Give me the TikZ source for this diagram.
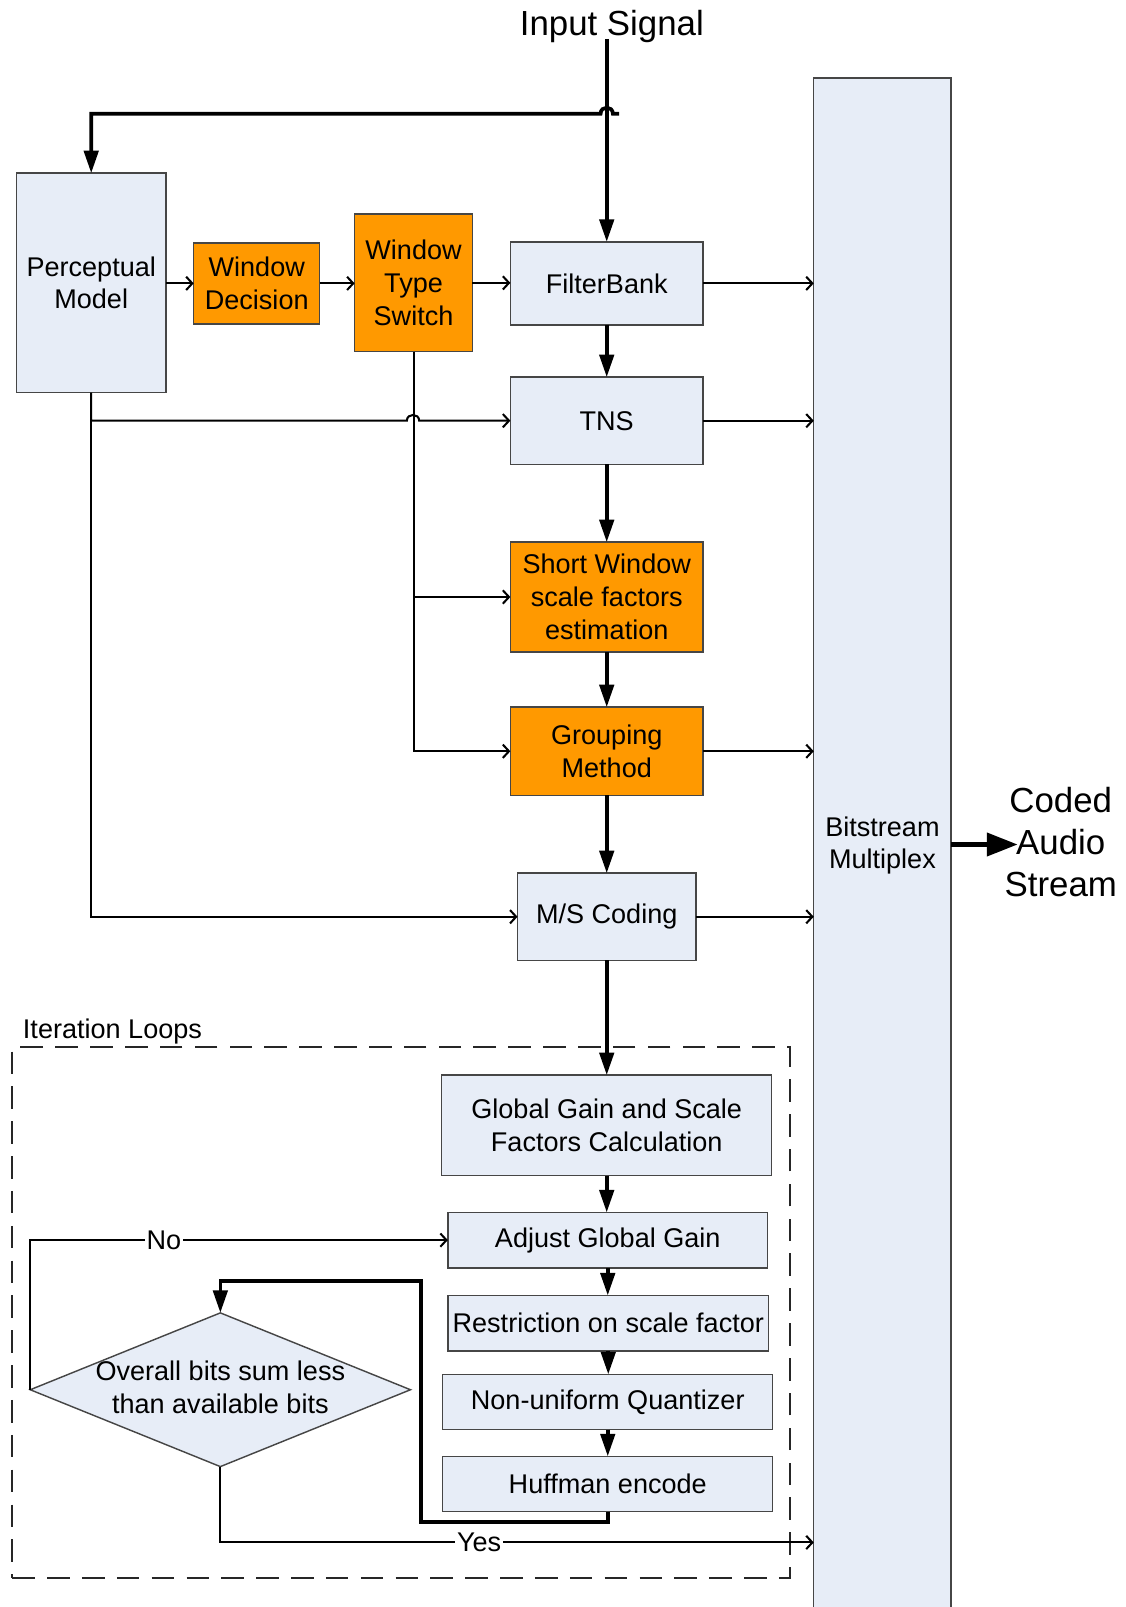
\documentclass[tikz,border=0pt]{standalone}
\usepackage{fontspec}
\setmainfont{Liberation Sans}
\usetikzlibrary{arrows.meta,shapes.geometric}

\definecolor{boxblue}{RGB}{231,237,247}
\definecolor{boxorange}{RGB}{255,153,0}
\definecolor{boxline}{RGB}{70,70,70}

\tikzset{
  blk/.style={draw=boxline, line width=0.7pt, fill=boxblue, inner sep=0pt,
    outer sep=0pt, align=center, font=\fontsize{13.2}{16}\selectfont},
  oblk/.style={blk, fill=boxorange},
  loopbox/.style={draw=black!85, line width=1pt, dash pattern=on 11pt off 6pt,
    inner sep=0pt, outer sep=0pt},
  flow/.style={line width=1.8pt, -{Triangle[length=11pt,width=7pt]}},
  wire/.style={line width=1pt},
  feed/.style={wire, -{Straight Barb[length=3pt,width=6.5pt]}},
  lbl/.style={fill=white, inner sep=1pt, font=\fontsize{13.2}{16}\selectfont},
  bigtext/.style={inner sep=0pt, align=center, font=\fontsize{17}{20.5}\selectfont}
}

% block: style, name, x1, y1, x2, y2, text
\newcommand\placebox[7]{%
  \node[#1, minimum width={(#5-#3)*0.5pt}, minimum height={(#6-#4)*0.5pt}]
    (#2) at ({(#3+#5)/2},{(#4+#6)/2}) {#7};}

\begin{document}
\begin{tikzpicture}[x=0.5pt,y=-0.5pt]
\useasboundingbox (0,0) rectangle (1098,1568);

% encoder chain
\placebox{blk}{PM}{16}{169}{162}{383}{Perceptual\\Model}
\placebox{oblk}{WD}{189}{237}{312}{316}{Window\\Decision}
\placebox{oblk}{WT}{346}{209}{461}{343}{Window\\Type\\Switch}
\placebox{blk}{FB}{498}{236}{686}{317}{FilterBank}
\placebox{blk}{TN}{498}{368}{686}{453}{TNS}
\placebox{oblk}{SW}{498}{529}{686}{636}{Short Window\\scale factors\\estimation}
\placebox{oblk}{GM}{498}{690}{686}{776}{Grouping\\Method}
\placebox{blk}{MS}{505}{852}{679}{937}{M/S Coding}
\placebox{blk}{BM}{794}{76}{928}{1574}{Bitstream\\Multiplex}

% iteration loops
\placebox{loopbox}{IL}{12}{1022}{771}{1540}{}
\node[anchor=base west, inner sep=0pt, font=\fontsize{13.2}{16}\selectfont]
  (ILlabel) at (22,1013) {Iteration Loops};
\placebox{blk}{GG}{431}{1049}{753}{1147}{Global Gain and Scale\\Factors Calculation}
\placebox{blk}{AG}{437}{1183}{749}{1237}{Adjust Global Gain}
\placebox{blk}{RS}{437}{1264}{750}{1318}{Restriction on scale factor}
\placebox{blk}{NQ}{432}{1341}{754}{1395}{Non-uniform Quantizer}
\placebox{blk}{HE}{432}{1421}{754}{1475}{Huffman encode}
\node[blk, diamond, aspect=2.47, minimum width=185.5pt, minimum height=75pt]
  (OB) at (215,1356) {};
\node[inner sep=0pt, align=center, font=\fontsize{13.2}{16}\selectfont]
  (OBtext) at (215,1354) {Overall bits sum less\\than available bits};

% input and output labels
\node[bigtext] (IS) at (597,26) {Input Signal};
\node[bigtext] (CA) at (1035,822) {Coded\\Audio\\Stream};
\coordinate (in) at (592,38);
\coordinate (tap) at (604,111);
\coordinate (caIn) at (993,824);
\coordinate (yesY) at (0,1505);

% main signal path
\draw[flow] (in) -- (FB.north);
\draw[flow] (tap) -- (598,111) .. controls (598,103) and (586,103) .. (586,111)
  -- (PM.north |- tap) -- (PM.north);
\draw[flow] (FB.south) -- (TN.north);
\draw[flow] (TN.south) -- (SW.north);
\draw[flow] (SW.south) -- (GM.north);
\draw[flow] (GM.south) -- (MS.north);
\draw[flow] (MS.south) -- (GG.north);
\draw[flow] (GG.south) -- (GG.south |- AG.north);
\draw[flow] (AG.south) -- (AG.south |- RS.north);
\draw[flow] (RS.south) -- (RS.south |- NQ.north);
\draw[flow] (NQ.south) -- (HE.north);
\draw[flow] (HE.south) |- (411,1485) |- (215,1250) -- (OB.north);

% side information
\draw[feed] (PM.east |- WD.west) -- (WD.west);
\draw[feed] (WD.east) -- (WD.east -| WT.west);
\draw[feed] (WT.east) -- (WT.east -| FB.west);
\draw[feed] (PM.south) -- (PM.south |- TN.west) -- (397,410.5)
  .. controls (397,403) and (409,403) .. (409,410.5) -- (TN.west);
\draw[feed] (PM.south) |- (MS.west);
\draw[feed] (WT.south) |- (SW.west);
\draw[feed] (WT.south) |- (GM.west);

% to the multiplexer
\draw[feed] (FB.east) -- (FB.east -| BM.west);
\draw[feed] (TN.east) -- (TN.east -| BM.west);
\draw[feed] (GM.east) -- (GM.east -| BM.west);
\draw[feed] (MS.east) -- (MS.east -| BM.west);
\draw[feed] (OB.south) |- node[lbl, pos=0.718] {Yes} (BM.west |- yesY);
\draw[feed] (OB.west) |- node[lbl, pos=0.66] {No} (AG.west);
\draw[line width=2.5pt, -{Triangle[length=15pt,width=11pt]}] (BM.east |- caIn) -- (caIn);
\end{tikzpicture}
\end{document}
